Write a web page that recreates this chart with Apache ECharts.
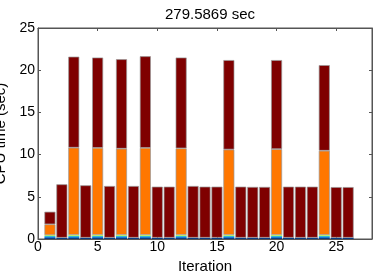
<!DOCTYPE html>
<html><head><meta charset="utf-8">
<script src="https://cdn.jsdelivr.net/npm/echarts@6/dist/echarts.min.js"></script>
<style>html,body{margin:0;padding:0;background:#fff}#c{width:374px;height:271px}</style>
</head><body><div id="c"></div>
<script>
const titleText = "279.5869 sec";
const xTicks = [0, 5, 10, 15, 20, 25];
const yTicks = [0, 5, 10, 15, 20, 25];
const xMax = 28;
const iterations = [1,2,3,4,5,6,7,8,9,10,11,12,13,14,15,16,17,18,19,20,21,22,23,24,25,26];
const darkBlue = [0.12,0.15,0.12,0.15,0.12,0.15,0.12,0.15,0.12,0.15,0.15,0.12,0.15,0.15,0.15,0.12,0.15,0.15,0.15,0.12,0.15,0.15,0.15,0.12,0.15,0.15];
const blue     = [0.12,0,0.12,0,0.12,0,0.12,0,0.12,0,0,0.12,0,0,0,0.12,0,0,0,0.12,0,0,0,0.12,0,0];
const cyan     = [0.12,0,0.14,0,0.14,0,0.14,0,0.14,0,0,0.14,0,0,0,0.14,0,0,0,0.14,0,0,0,0.14,0,0];
const green    = [0.10,0,0.10,0,0.10,0,0.10,0,0.10,0,0,0.10,0,0,0,0.10,0,0,0,0.10,0,0,0,0.10,0,0];
const orange   = [1.28,0,10.34,0,10.32,0,10.22,0,10.32,0,0,10.26,0,0,0,10.12,0,0,0,10.17,0,0,0,9.98,0,0];
const darkRed  = [1.49,6.33,10.78,6.21,10.7,6.13,10.6,6.13,10.85,6.05,6.05,10.76,6.13,6.05,6.05,10.6,6.05,6.02,6.02,10.55,6.05,6.05,6.05,10.14,6.0,6.0];

const layers = [
  {name:'L1', data: darkBlue, color:'#0a3d85', edge:false},
  {name:'L2', data: blue, color:'#1a78d0', edge:false},
  {name:'L3', data: cyan, color:'#30b8d8', edge:false},
  {name:'L4', data: green, color:'#b8f040', edge:false},
  {name:'L5', data: orange, color:'#ff7700', edge:true},
  {name:'L6', data: darkRed, color:'#7f0000', edge:true}
];
const cats = [];
for (let i = 0; i <= xMax; i++) cats.push(String(i));
const font = 'Liberation Sans, Arial, sans-serif';
const axisCol = '#555';
const tickInterval = (idx) => xTicks.includes(idx);
const chart = echarts.init(document.getElementById('c'), null, {renderer:'canvas'});
chart.setOption({
  animation:false,
  title:{text:titleText, left:205, textAlign:'center', top:2,
    textStyle:{fontFamily:font, fontSize:15, fontWeight:'normal', color:'#000'}},
  grid:{left:38, right:2, top:28, bottom:32, containLabel:false, outerBoundsMode:'none',
    show:true, borderColor:axisCol, borderWidth:1},
  xAxis:[{type:'category', data:cats, boundaryGap:false, position:'bottom',
    name:'Iteration', nameLocation:'middle', nameGap:14,
    nameTextStyle:{fontFamily:font, fontSize:15, color:'#000'},
    axisLine:{show:true, onZero:false, lineStyle:{color:axisCol}},
    axisTick:{show:true, inside:true, length:3, interval:tickInterval, lineStyle:{color:axisCol}},
    axisLabel:{fontFamily:font, fontSize:14, color:'#000', margin:1, interval:tickInterval},
    splitLine:{show:false}},
   {type:'category', data:cats, boundaryGap:false, position:'top',
    axisLine:{show:true, onZero:false, lineStyle:{color:axisCol}},
    axisTick:{show:true, inside:true, length:3, interval:tickInterval, lineStyle:{color:axisCol}},
    axisLabel:{show:true, formatter: () => ''}, splitLine:{show:false}}],
  yAxis:[{type:'value', min:0, max:25, interval:5, position:'left',
    name:'CPU time (sec)', nameLocation:'middle', nameGap:18,
    nameTextStyle:{fontFamily:font, fontSize:15, color:'#000'},
    axisLine:{show:true, onZero:false, lineStyle:{color:axisCol}},
    axisTick:{show:true, inside:true, length:3, lineStyle:{color:axisCol}},
    axisLabel:{fontFamily:font, fontSize:14, color:'#000', margin:3,
      formatter: v => yTicks.includes(v) ? String(v) : ''},
    splitLine:{show:false}},
   {type:'value', min:0, max:25, interval:5, position:'right',
    axisLine:{show:true, onZero:false, lineStyle:{color:axisCol}},
    axisTick:{show:true, inside:true, length:3, lineStyle:{color:axisCol}},
    axisLabel:{show:true, formatter: () => ''}, splitLine:{show:false}}],
  series: layers.map(l => {
    const d = cats.map(() => null);
    iterations.forEach((it, i) => { d[it] = l.data[i] > 0 ? l.data[i] : null; });
    return {
      type:'bar', name:l.name, stack:'t', barWidth:11,
      xAxisIndex:0, yAxisIndex:0, data:d,
      itemStyle:{color:l.color, borderColor:'#999', borderWidth:l.edge ? 0.7 : 0}
    };
  })
});
</script></body></html>
